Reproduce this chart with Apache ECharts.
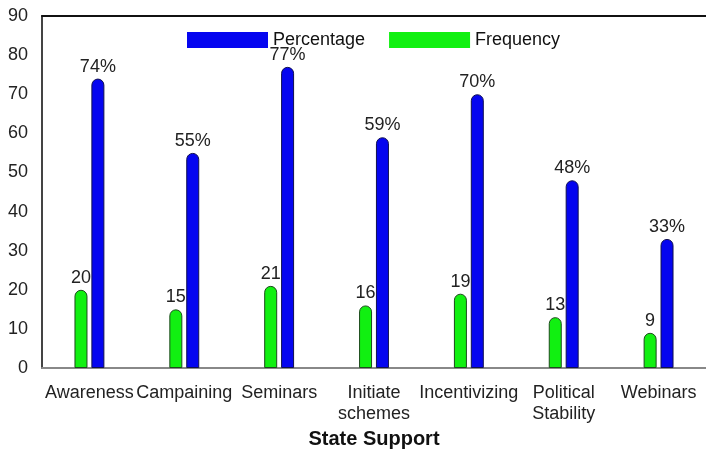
<!DOCTYPE html>
<html>
<head>
<meta charset="utf-8">
<script src="https://cdn.jsdelivr.net/npm/echarts@6/dist/echarts.min.js"></script>
<style>
  html, body { margin: 0; padding: 0; background: #fff; }
  #chart { width: 706px; height: 452px; }
</style>
</head>
<body>
<div id="chart"></div>
<script>
var categories = ['Awareness', 'Campaining', 'Seminars', 'Initiate\nschemes', 'Incentivizing', 'Political\nStability', 'Webinars'];
var frequency = [20, 15, 21, 16, 19, 13, 9];
var percentage = [74, 55, 77, 59, 70, 48, 33];
var yTicks = [0, 90, 10]; // min, max, interval

var dom = document.getElementById('chart');
var myChart = echarts.init(dom);
var font = 'Liberation Sans';

var option = {
    animation: false,
    textStyle: { fontFamily: font },
    legend: {
        data: ['Percentage', 'Frequency'],
        left: 182,
        top: 26,
        itemWidth: 81,
        itemHeight: 16,
        itemGap: 24,
        icon: 'rect',
        itemStyle: { borderWidth: 0 },
        textStyle: { fontSize: 18, color: '#111', fontFamily: font }
    },
    grid: { left: 42, top: 16, right: 0, bottom: 84, outerBoundsMode: 'none' },
    xAxis: [{
        type: 'category',
        data: categories,
        axisLine: { lineStyle: { color: '#888', width: 2 } },
        axisTick: { show: false },
        axisLabel: { fontSize: 18, color: '#222', margin: 15, lineHeight: 21, interval: 0 },
        name: 'State Support',
        nameLocation: 'middle',
        nameGap: 59,
        nameTextStyle: { fontSize: 20, fontWeight: 'bold', color: '#111' }
    }, {
        type: 'category',
        position: 'top',
        data: categories,
        axisLine: { lineStyle: { color: '#111', width: 2 } },
        axisTick: { show: false },
        axisLabel: { show: false }
    }],
    yAxis: {
        type: 'value',
        min: yTicks[0],
        max: yTicks[1],
        interval: yTicks[2],
        axisLine: { show: true, lineStyle: { color: '#444', width: 2 } },
        axisTick: { show: false },
        splitLine: { show: false },
        axisLabel: { fontSize: 18, color: '#222', margin: 14 }
    },
    series: [{
        name: 'Frequency',
        type: 'bar',
        data: frequency,
        barWidth: 13,
        barGap: '30%',
        itemStyle: {
            color: '#11f011',
            borderColor: '#1d4a1d',
            borderWidth: 1,
            borderRadius: [7, 7, 0, 0]
        },
        label: { show: true, position: 'top', distance: 3, fontSize: 18, color: '#222' }
    }, {
        name: 'Percentage',
        type: 'bar',
        data: percentage,
        barWidth: 13,
        itemStyle: {
            color: '#0505f0',
            borderColor: '#101050',
            borderWidth: 1,
            borderRadius: [7, 7, 0, 0]
        },
        label: { show: true, position: 'top', distance: 3, fontSize: 18, color: '#222', formatter: '{c}%' }
    }]
};

if (option && typeof option === "object") {
    myChart.setOption(option, true);
}
</script>
</body>
</html>
